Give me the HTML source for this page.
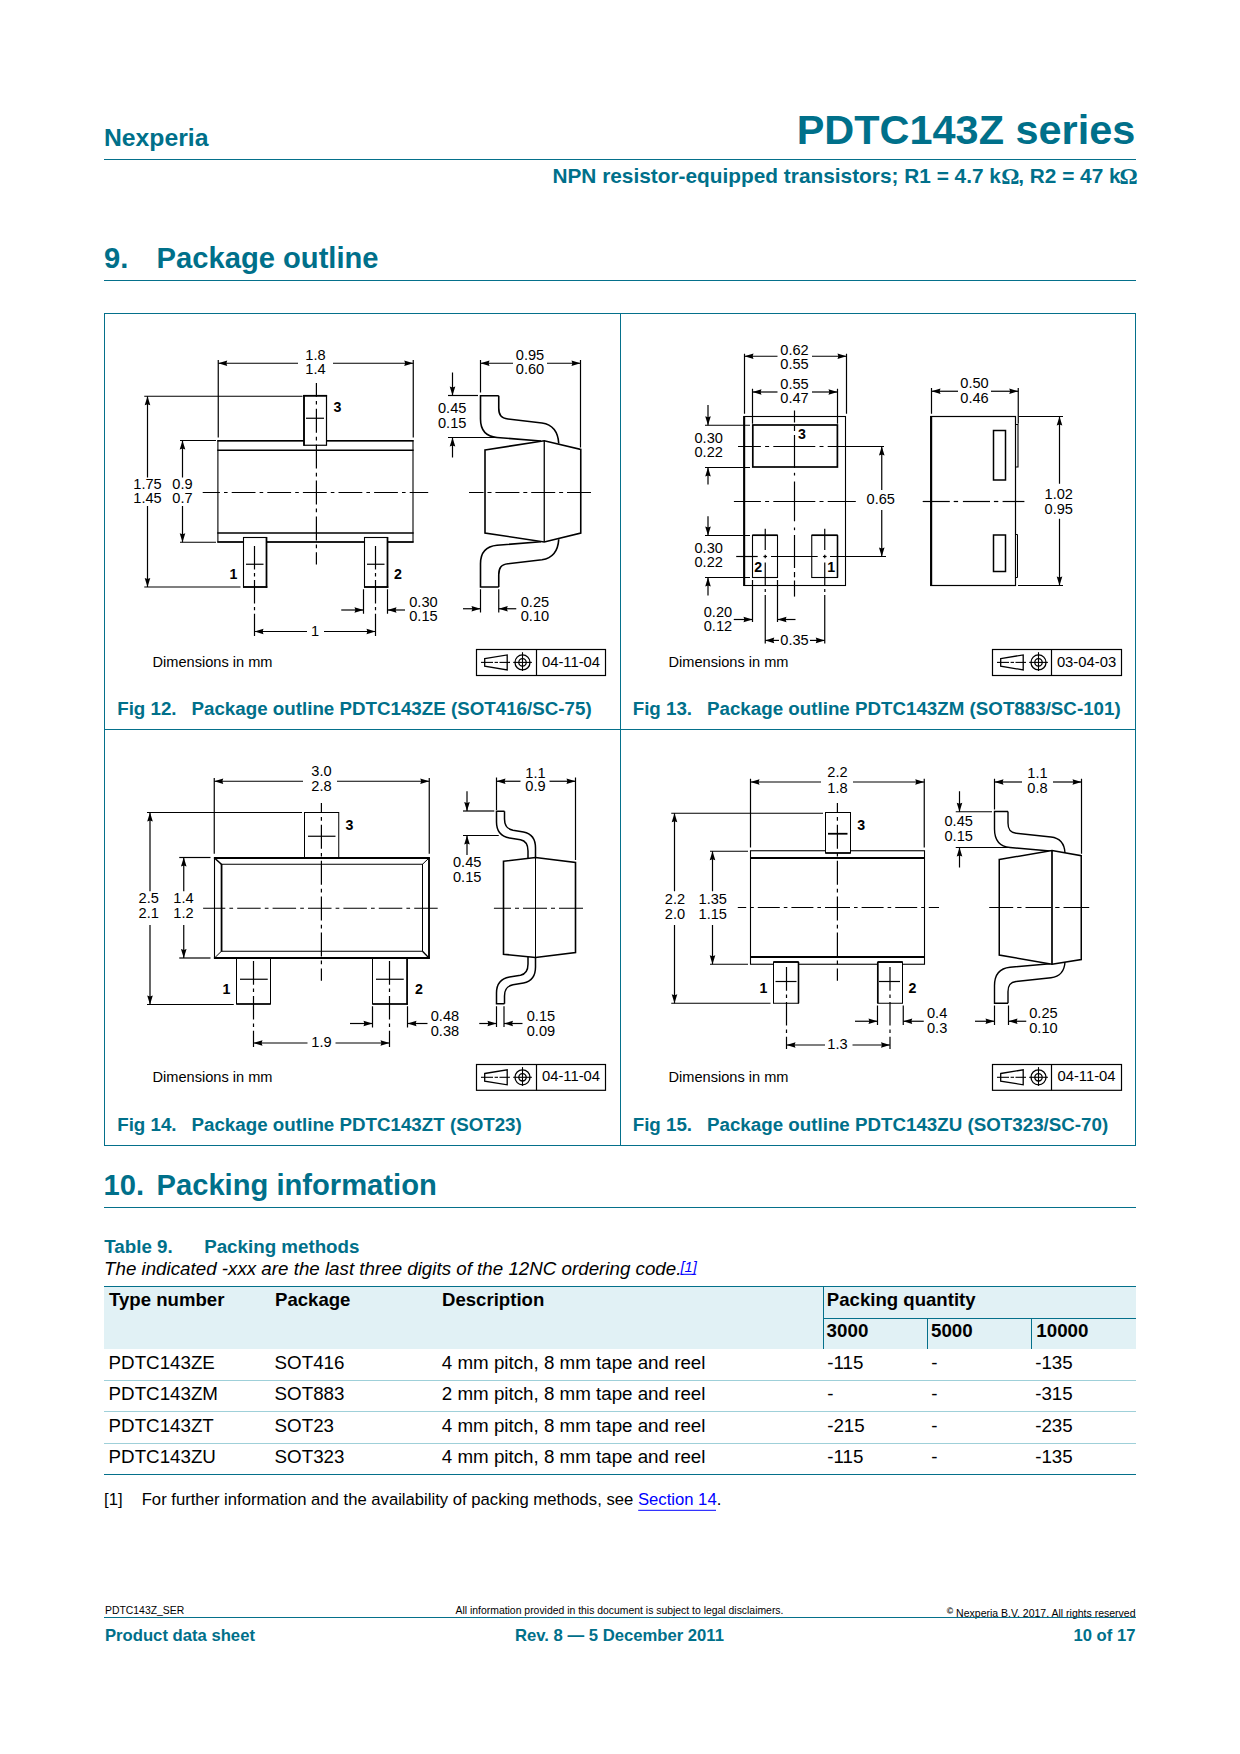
<!DOCTYPE html>
<html lang="en"><head><meta charset="utf-8"><title>PDTC143Z series - Package outline</title>
<style>
html,body{margin:0;padding:0;background:#fff}
svg{display:block}
svg{font-family:"Liberation Sans",sans-serif}
</style></head><body>
<svg width="1240" height="1754" viewBox="0 0 1240 1754">
<rect width="1240" height="1754" fill="#fff"/>
<text x="103.9" y="146" font-size="24.75" font-weight="bold" fill="#00708a">Nexperia</text>
<text x="1135.3" y="144" font-size="41.45" text-anchor="end" font-weight="bold" fill="#00708a">PDTC143Z series</text>
<line x1="104" y1="159.5" x2="1136" y2="159.5" stroke="#04708b" stroke-width="1"/>
<text x="552.4" y="183" font-size="20.83" font-weight="bold" fill="#00708a">NPN resistor-equipped transistors; R1 = 4.7 k</text>
<text x="1018.2" y="183" font-size="20.83" font-weight="bold" fill="#00708a">, R2 = 47 k</text>
<text x="1001.2" y="184" font-size="22.7" font-weight="bold" fill="#00708a" font-family="Liberation Serif, DejaVu Serif, serif">Ω</text>
<text x="1119.6" y="184" font-size="22.7" font-weight="bold" fill="#00708a" font-family="Liberation Serif, DejaVu Serif, serif">Ω</text>
<text x="104" y="268" font-size="29.17" font-weight="bold" fill="#00708a">9.</text>
<text x="156.6" y="268" font-size="29.17" font-weight="bold" fill="#00708a">Package outline</text>
<line x1="104" y1="280.5" x2="1136" y2="280.5" stroke="#04708b" stroke-width="1"/>
<rect x="104.5" y="313.5" width="1031" height="832" fill="none" stroke="#04708b" stroke-width="1"/>
<line x1="620.5" y1="313.5" x2="620.5" y2="1145.5" stroke="#04708b" stroke-width="1"/>
<line x1="104.5" y1="729.5" x2="1135.5" y2="729.5" stroke="#04708b" stroke-width="1"/>
<text x="117.2" y="715.1" font-size="18.75" font-weight="bold" fill="#00708a">Fig 12.</text>
<text x="191.5" y="715.1" font-size="18.75" font-weight="bold" fill="#00708a">Package outline PDTC143ZE (SOT416/SC-75)</text>
<text x="632.7" y="715.1" font-size="18.75" font-weight="bold" fill="#00708a">Fig 13.</text>
<text x="707" y="715.1" font-size="18.75" font-weight="bold" fill="#00708a">Package outline PDTC143ZM (SOT883/SC-101)</text>
<text x="117.2" y="1131.3" font-size="18.75" font-weight="bold" fill="#00708a">Fig 14.</text>
<text x="191.5" y="1131.3" font-size="18.75" font-weight="bold" fill="#00708a">Package outline PDTC143ZT (SOT23)</text>
<text x="632.7" y="1131.3" font-size="18.75" font-weight="bold" fill="#00708a">Fig 15.</text>
<text x="707" y="1131.3" font-size="18.75" font-weight="bold" fill="#00708a">Package outline PDTC143ZU (SOT323/SC-70)</text>
<text x="152.5" y="666.5" font-size="14.6">Dimensions in mm</text>
<text x="668.5" y="666.5" font-size="14.6">Dimensions in mm</text>
<text x="152.5" y="1081.5" font-size="14.6">Dimensions in mm</text>
<text x="668.5" y="1081.5" font-size="14.6">Dimensions in mm</text>
<rect x="476.5" y="649.5" width="129" height="26" fill="none" stroke="#000" stroke-width="1.2"/>
<line x1="536.5" y1="649.5" x2="536.5" y2="675.5" stroke="#000" stroke-width="1.2"/>
<path d="M484.7 658.6 L507.2 654.9 L507.2 669.9 L484.7 666.2 Z" fill="none" stroke="#000" stroke-width="1.3" stroke-linejoin="miter"/>
<line x1="481" y1="662.4" x2="493" y2="662.4" stroke="#000" stroke-width="1.1"/>
<line x1="494.6" y1="662.4" x2="498" y2="662.4" stroke="#000" stroke-width="1.1"/>
<line x1="499.5" y1="662.4" x2="510" y2="662.4" stroke="#000" stroke-width="1.1"/>
<circle cx="522.5" cy="662.4" r="7.5" fill="none" stroke="#000" stroke-width="1.3"/>
<circle cx="522.5" cy="662.4" r="3.7" fill="none" stroke="#000" stroke-width="1.3"/>
<line x1="513.2" y1="662.4" x2="531.9" y2="662.4" stroke="#000" stroke-width="1.1"/>
<line x1="522.5" y1="652.2" x2="522.5" y2="671" stroke="#000" stroke-width="1.1"/>
<text x="571" y="666.6" font-size="14.8" text-anchor="middle">04-11-04</text>
<rect x="992.5" y="649.5" width="129" height="26" fill="none" stroke="#000" stroke-width="1.2"/>
<line x1="1051.5" y1="649.5" x2="1051.5" y2="675.5" stroke="#000" stroke-width="1.2"/>
<path d="M1000.7 658.6 L1023.2 654.9 L1023.2 669.9 L1000.7 666.2 Z" fill="none" stroke="#000" stroke-width="1.3" stroke-linejoin="miter"/>
<line x1="997" y1="662.4" x2="1009" y2="662.4" stroke="#000" stroke-width="1.1"/>
<line x1="1010.6" y1="662.4" x2="1014" y2="662.4" stroke="#000" stroke-width="1.1"/>
<line x1="1015.5" y1="662.4" x2="1026" y2="662.4" stroke="#000" stroke-width="1.1"/>
<circle cx="1038.5" cy="662.4" r="7.5" fill="none" stroke="#000" stroke-width="1.3"/>
<circle cx="1038.5" cy="662.4" r="3.7" fill="none" stroke="#000" stroke-width="1.3"/>
<line x1="1029.2" y1="662.4" x2="1047.9" y2="662.4" stroke="#000" stroke-width="1.1"/>
<line x1="1038.5" y1="652.2" x2="1038.5" y2="671" stroke="#000" stroke-width="1.1"/>
<text x="1086.5" y="666.6" font-size="14.8" text-anchor="middle">03-04-03</text>
<rect x="476.5" y="1064.5" width="129" height="25.8" fill="none" stroke="#000" stroke-width="1.2"/>
<line x1="536.5" y1="1064.5" x2="536.5" y2="1090.3" stroke="#000" stroke-width="1.2"/>
<path d="M484.7 1073.5 L507.2 1069.8 L507.2 1084.8 L484.7 1081.1 Z" fill="none" stroke="#000" stroke-width="1.3" stroke-linejoin="miter"/>
<line x1="481" y1="1077.3" x2="493" y2="1077.3" stroke="#000" stroke-width="1.1"/>
<line x1="494.6" y1="1077.3" x2="498" y2="1077.3" stroke="#000" stroke-width="1.1"/>
<line x1="499.5" y1="1077.3" x2="510" y2="1077.3" stroke="#000" stroke-width="1.1"/>
<circle cx="522.5" cy="1077.3" r="7.5" fill="none" stroke="#000" stroke-width="1.3"/>
<circle cx="522.5" cy="1077.3" r="3.7" fill="none" stroke="#000" stroke-width="1.3"/>
<line x1="513.2" y1="1077.3" x2="531.9" y2="1077.3" stroke="#000" stroke-width="1.1"/>
<line x1="522.5" y1="1067.1" x2="522.5" y2="1085.9" stroke="#000" stroke-width="1.1"/>
<text x="571" y="1081.4" font-size="14.8" text-anchor="middle">04-11-04</text>
<rect x="992.5" y="1064.5" width="129" height="25.8" fill="none" stroke="#000" stroke-width="1.2"/>
<line x1="1051.5" y1="1064.5" x2="1051.5" y2="1090.3" stroke="#000" stroke-width="1.2"/>
<path d="M1000.7 1073.5 L1023.2 1069.8 L1023.2 1084.8 L1000.7 1081.1 Z" fill="none" stroke="#000" stroke-width="1.3" stroke-linejoin="miter"/>
<line x1="997" y1="1077.3" x2="1009" y2="1077.3" stroke="#000" stroke-width="1.1"/>
<line x1="1010.6" y1="1077.3" x2="1014" y2="1077.3" stroke="#000" stroke-width="1.1"/>
<line x1="1015.5" y1="1077.3" x2="1026" y2="1077.3" stroke="#000" stroke-width="1.1"/>
<circle cx="1038.5" cy="1077.3" r="7.5" fill="none" stroke="#000" stroke-width="1.3"/>
<circle cx="1038.5" cy="1077.3" r="3.7" fill="none" stroke="#000" stroke-width="1.3"/>
<line x1="1029.2" y1="1077.3" x2="1047.9" y2="1077.3" stroke="#000" stroke-width="1.1"/>
<line x1="1038.5" y1="1067.1" x2="1038.5" y2="1085.9" stroke="#000" stroke-width="1.1"/>
<text x="1086.5" y="1081.4" font-size="14.8" text-anchor="middle">04-11-04</text>
<text x="103.5" y="1195" font-size="29.17" font-weight="bold" fill="#00708a">10.</text>
<text x="156.5" y="1195" font-size="29.17" font-weight="bold" fill="#00708a">Packing information</text>
<line x1="104" y1="1207.5" x2="1136" y2="1207.5" stroke="#04708b" stroke-width="1"/>
<text x="104.3" y="1253" font-size="18.75" font-weight="bold" fill="#00708a">Table 9.</text>
<text x="204.2" y="1253" font-size="18.75" font-weight="bold" fill="#00708a">Packing methods</text>
<text x="104" y="1274.5" font-size="18.75" font-style="italic">The indicated -xxx are the last three digits of the 12NC ordering code.</text>
<text x="680.5" y="1271.7" font-size="14.6" font-style="italic" fill="#0000ff">[1]</text>
<line x1="681" y1="1274.3" x2="696.2" y2="1274.3" stroke="#0000ff" stroke-width="1"/>
<rect x="104" y="1287" width="1032" height="62" fill="#e1f1f5"/>
<line x1="104" y1="1286.5" x2="1136" y2="1286.5" stroke="#04708b" stroke-width="1"/>
<line x1="823.5" y1="1286.5" x2="823.5" y2="1349" stroke="#04708b" stroke-width="1"/>
<line x1="823.5" y1="1318.5" x2="1136" y2="1318.5" stroke="#04708b" stroke-width="1"/>
<line x1="927.5" y1="1318.5" x2="927.5" y2="1349" stroke="#04708b" stroke-width="1"/>
<line x1="1031.5" y1="1318.5" x2="1031.5" y2="1349" stroke="#04708b" stroke-width="1"/>
<text x="109" y="1306.1" font-size="18.6" font-weight="bold">Type number</text>
<text x="275" y="1306.1" font-size="18.6" font-weight="bold">Package</text>
<text x="442" y="1306.1" font-size="18.6" font-weight="bold">Description</text>
<text x="826.8" y="1306.1" font-size="18.6" font-weight="bold">Packing quantity</text>
<text x="826.6" y="1337.3" font-size="18.75" font-weight="bold">3000</text>
<text x="931" y="1337.3" font-size="18.75" font-weight="bold">5000</text>
<text x="1036.3" y="1337.3" font-size="18.75" font-weight="bold">10000</text>
<text x="108.6" y="1368.8" font-size="18.75">PDTC143ZE</text>
<text x="274.6" y="1368.8" font-size="18.75">SOT416</text>
<text x="441.8" y="1368.8" font-size="18.75">4 mm pitch, 8 mm tape and reel</text>
<text x="827.2" y="1368.8" font-size="18.75">-115</text>
<text x="931.2" y="1368.8" font-size="18.75">-</text>
<text x="1035.2" y="1368.8" font-size="18.75">-135</text>
<text x="108.6" y="1400.3" font-size="18.75">PDTC143ZM</text>
<text x="274.6" y="1400.3" font-size="18.75">SOT883</text>
<text x="441.8" y="1400.3" font-size="18.75">2 mm pitch, 8 mm tape and reel</text>
<text x="827.2" y="1400.3" font-size="18.75">-</text>
<text x="931.2" y="1400.3" font-size="18.75">-</text>
<text x="1035.2" y="1400.3" font-size="18.75">-315</text>
<text x="108.6" y="1431.6" font-size="18.75">PDTC143ZT</text>
<text x="274.6" y="1431.6" font-size="18.75">SOT23</text>
<text x="441.8" y="1431.6" font-size="18.75">4 mm pitch, 8 mm tape and reel</text>
<text x="827.2" y="1431.6" font-size="18.75">-215</text>
<text x="931.2" y="1431.6" font-size="18.75">-</text>
<text x="1035.2" y="1431.6" font-size="18.75">-235</text>
<text x="108.6" y="1463.2" font-size="18.75">PDTC143ZU</text>
<text x="274.6" y="1463.2" font-size="18.75">SOT323</text>
<text x="441.8" y="1463.2" font-size="18.75">4 mm pitch, 8 mm tape and reel</text>
<text x="827.2" y="1463.2" font-size="18.75">-115</text>
<text x="931.2" y="1463.2" font-size="18.75">-</text>
<text x="1035.2" y="1463.2" font-size="18.75">-135</text>
<line x1="104" y1="1380.5" x2="1136" y2="1380.5" stroke="#9fd0d9" stroke-width="1"/>
<line x1="104" y1="1411.5" x2="1136" y2="1411.5" stroke="#9fd0d9" stroke-width="1"/>
<line x1="104" y1="1443.5" x2="1136" y2="1443.5" stroke="#9fd0d9" stroke-width="1"/>
<line x1="104" y1="1474.5" x2="1136" y2="1474.5" stroke="#04708b" stroke-width="1"/>
<text x="104" y="1505" font-size="16.67">[1]</text>
<text x="141.7" y="1505" font-size="16.67">For further information and the availability of packing methods, see <tspan fill="#0000ff">Section 14</tspan>.</text>
<line x1="638.2" y1="1510.3" x2="716" y2="1510.3" stroke="#0000ff" stroke-width="1"/>
<text x="105" y="1614" font-size="10.42">PDTC143Z_SER</text>
<text x="619.5" y="1614" font-size="10.42" text-anchor="middle">All information provided in this document is subject to legal disclaimers.</text>
<text x="1135.5" y="1617.1" font-size="10.5" text-anchor="end"><tspan font-size="8.6" font-weight="bold" dy="-3.4">©</tspan><tspan dy="3.4"> Nexperia B.V. 2017. All rights reserved</tspan></text>
<line x1="104" y1="1617.5" x2="1136" y2="1617.5" stroke="#04708b" stroke-width="1"/>
<text x="105" y="1641" font-size="16.67" font-weight="bold" fill="#00708a">Product data sheet</text>
<text x="619.5" y="1641" font-size="16.67" text-anchor="middle" font-weight="bold" fill="#00708a">Rev. 8 — 5 December 2011</text>
<text x="1135.5" y="1641" font-size="16.67" text-anchor="end" font-weight="bold" fill="#00708a">10 of 17</text>
<g id="fig12">
<line x1="218.25" y1="360" x2="218.25" y2="437.5" stroke="#000" stroke-width="1.2"/>
<line x1="413.25" y1="360" x2="413.25" y2="437.5" stroke="#000" stroke-width="1.2"/>
<line x1="218.25" y1="363.25" x2="298" y2="363.25" stroke="#000" stroke-width="1.2"/>
<line x1="333" y1="363.25" x2="413.25" y2="363.25" stroke="#000" stroke-width="1.2"/>
<polygon points="218.25,363.25 227.25,360.45 226.35,363.25 227.25,366.05"/>
<polygon points="413.25,363.25 404.25,360.45 405.15,363.25 404.25,366.05"/>
<text x="315.5" y="359.5" font-size="14.6" text-anchor="middle">1.8</text>
<text x="315.5" y="374.1" font-size="14.6" text-anchor="middle">1.4</text>
<rect x="217.9" y="440.75" width="195.1" height="101.25" fill="none" stroke="#000" stroke-width="1.1"/>
<line x1="217.3" y1="440.75" x2="413.6" y2="440.75" stroke="#000" stroke-width="1.7"/>
<line x1="217.3" y1="450.25" x2="413.6" y2="450.25" stroke="#000" stroke-width="1.7"/>
<line x1="217.3" y1="533" x2="413.6" y2="533" stroke="#000" stroke-width="1.7"/>
<line x1="217.3" y1="542" x2="413.6" y2="542" stroke="#000" stroke-width="1.7"/>
<rect x="304" y="395.75" width="22.5" height="49.5" fill="#fff" stroke="#000" stroke-width="1.2"/>
<line x1="303.2" y1="395.75" x2="327.1" y2="395.75" stroke="#000" stroke-width="1.7"/>
<line x1="304" y1="395" x2="304" y2="445.8" stroke="#000" stroke-width="1.7"/>
<rect x="243.5" y="537.5" width="23" height="49.5" fill="#fff" stroke="#000" stroke-width="1.1"/>
<line x1="266.5" y1="537" x2="266.5" y2="587.8" stroke="#000" stroke-width="1.7"/>
<line x1="243" y1="587" x2="267.3" y2="587" stroke="#000" stroke-width="1.7"/>
<rect x="364.5" y="537.5" width="23" height="49.5" fill="#fff" stroke="#000" stroke-width="1.1"/>
<line x1="387.5" y1="537" x2="387.5" y2="587.8" stroke="#000" stroke-width="1.7"/>
<line x1="364" y1="587" x2="388.3" y2="587" stroke="#000" stroke-width="1.7"/>
<line x1="202.7" y1="492.5" x2="428.2" y2="492.5" stroke="#000" stroke-width="1.2" stroke-dasharray="23.8 4.1 3.6 4.1" stroke-dashoffset="6.6"/>
<line x1="316.4" y1="382.9" x2="316.4" y2="564.6" stroke="#000" stroke-width="1.2" stroke-dasharray="24 4.1 3.7 4.1" stroke-dashoffset="10.1"/>
<line x1="306" y1="418.25" x2="324" y2="418.25" stroke="#000" stroke-width="1.2"/>
<line x1="246" y1="564.25" x2="263.5" y2="564.25" stroke="#000" stroke-width="1.2"/>
<line x1="254.5" y1="546" x2="254.5" y2="636" stroke="#000" stroke-width="1.2" stroke-dasharray="23.5 3.5 3.4 3.5"/>
<line x1="367" y1="564.25" x2="384.5" y2="564.25" stroke="#000" stroke-width="1.2"/>
<line x1="375.5" y1="546" x2="375.5" y2="636" stroke="#000" stroke-width="1.2" stroke-dasharray="23.5 3.5 3.4 3.5"/>
<line x1="144.25" y1="396.25" x2="302.5" y2="396.25" stroke="#000" stroke-width="1.2"/>
<line x1="144.25" y1="587" x2="240.5" y2="587" stroke="#000" stroke-width="1.2"/>
<line x1="147.5" y1="396.25" x2="147.5" y2="477.5" stroke="#000" stroke-width="1.2"/>
<line x1="147.5" y1="506" x2="147.5" y2="587" stroke="#000" stroke-width="1.2"/>
<polygon points="147.5,396.25 144.7,405.25 147.5,404.35 150.3,405.25"/>
<polygon points="147.5,587 144.7,578 147.5,578.9 150.3,578"/>
<text x="147.5" y="488.75" font-size="14.6" text-anchor="middle">1.75</text>
<text x="147.5" y="503.35" font-size="14.6" text-anchor="middle">1.45</text>
<line x1="180" y1="440.5" x2="216" y2="440.5" stroke="#000" stroke-width="1.2"/>
<line x1="180" y1="542.25" x2="216" y2="542.25" stroke="#000" stroke-width="1.2"/>
<line x1="182.5" y1="440.5" x2="182.5" y2="477.5" stroke="#000" stroke-width="1.2"/>
<line x1="182.5" y1="506" x2="182.5" y2="542.25" stroke="#000" stroke-width="1.2"/>
<polygon points="182.5,440.5 179.7,449.5 182.5,448.6 185.3,449.5"/>
<polygon points="182.5,542.25 179.7,533.25 182.5,534.15 185.3,533.25"/>
<text x="182.5" y="488.75" font-size="14.6" text-anchor="middle">0.9</text>
<text x="182.5" y="503.35" font-size="14.6" text-anchor="middle">0.7</text>
<text x="333.5" y="412" font-size="14.2" font-weight="bold">3</text>
<text x="229.5" y="579.25" font-size="14.2" font-weight="bold">1</text>
<text x="394" y="579.25" font-size="14.2" font-weight="bold">2</text>
<line x1="254.5" y1="631.5" x2="307" y2="631.5" stroke="#000" stroke-width="1.2"/>
<line x1="324" y1="631.5" x2="375.5" y2="631.5" stroke="#000" stroke-width="1.2"/>
<polygon points="254.5,631.5 263.5,628.7 262.6,631.5 263.5,634.3"/>
<polygon points="375.5,631.5 366.5,628.7 367.4,631.5 366.5,634.3"/>
<text x="315" y="636" font-size="14.6" text-anchor="middle">1</text>
<line x1="363.5" y1="589.25" x2="363.5" y2="613.75" stroke="#000" stroke-width="1.2"/>
<line x1="387.5" y1="589.25" x2="387.5" y2="613.75" stroke="#000" stroke-width="1.2"/>
<line x1="341.25" y1="610" x2="363.5" y2="610" stroke="#000" stroke-width="1.2"/>
<polygon points="363.5,610 354.5,607.2 355.4,610 354.5,612.8"/>
<line x1="387.5" y1="610" x2="405" y2="610" stroke="#000" stroke-width="1.2"/>
<polygon points="387.5,610 396.5,607.2 395.6,610 396.5,612.8"/>
<text x="409.25" y="606.75" font-size="14.6">0.30</text>
<text x="409.25" y="621.35" font-size="14.6">0.15</text>
<line x1="480.5" y1="360" x2="480.5" y2="392.5" stroke="#000" stroke-width="1.2"/>
<line x1="580.5" y1="360" x2="580.5" y2="447.5" stroke="#000" stroke-width="1.2"/>
<line x1="480.5" y1="363.25" x2="513" y2="363.25" stroke="#000" stroke-width="1.2"/>
<line x1="547" y1="363.25" x2="580.5" y2="363.25" stroke="#000" stroke-width="1.2"/>
<polygon points="480.5,363.25 489.5,360.45 488.6,363.25 489.5,366.05"/>
<polygon points="580.5,363.25 571.5,360.45 572.4,363.25 571.5,366.05"/>
<text x="530" y="359.5" font-size="14.6" text-anchor="middle">0.95</text>
<text x="530" y="374.1" font-size="14.6" text-anchor="middle">0.60</text>
<line x1="448" y1="395.5" x2="478" y2="395.5" stroke="#000" stroke-width="1.2"/>
<line x1="448" y1="437.5" x2="497" y2="437.5" stroke="#000" stroke-width="1.2"/>
<line x1="452.5" y1="372.5" x2="452.5" y2="395.5" stroke="#000" stroke-width="1.2"/>
<polygon points="452.5,395.5 449.7,386.5 452.5,387.4 455.3,386.5"/>
<line x1="452.5" y1="437.5" x2="452.5" y2="457.5" stroke="#000" stroke-width="1.2"/>
<polygon points="452.5,437.5 449.7,446.5 452.5,445.6 455.3,446.5"/>
<text x="438" y="413.25" font-size="14.6">0.45</text>
<text x="438" y="427.85" font-size="14.6">0.15</text>
<path d="M498.75 395.75 L480.5 395.75 L480.5 419 C480.5 431 486 436.5 497 437.5 L541 441 M498.75 395.75 L498.75 408 C498.75 415 501 418.3 508 419 L542 423 C552 424.5 558 431 558.75 443.5" fill="none" stroke="#000" stroke-width="1.6" stroke-linejoin="miter"/>
<path d="M498.75 587 L480.5 587 L480.5 563.75 C480.5 551.75 486 546.25 497 545.25 L541 541.75 M498.75 587 L498.75 574.75 C498.75 567.75 501 564.45 508 563.75 L542 559.75 C552 558.25 558 551.75 558.75 539.25" fill="none" stroke="#000" stroke-width="1.6" stroke-linejoin="miter"/>
<path d="M485 450 L544.25 440.75 L580.75 449.5 L580.75 533 L544.25 542 L485 533 Z" fill="#fff" stroke="#000" stroke-width="1.6" stroke-linejoin="miter"/>
<line x1="544.25" y1="440.75" x2="544.25" y2="542" stroke="#000" stroke-width="1.3"/>
<line x1="591" y1="492.5" x2="469" y2="492.5" stroke="#000" stroke-width="1.2" stroke-dasharray="24 3.9 4 3.9" stroke-dashoffset="0"/>
<line x1="480.5" y1="589.25" x2="480.5" y2="612.5" stroke="#000" stroke-width="1.2"/>
<line x1="498.75" y1="589.25" x2="498.75" y2="612.5" stroke="#000" stroke-width="1.2"/>
<line x1="463" y1="608.75" x2="480.5" y2="608.75" stroke="#000" stroke-width="1.2"/>
<polygon points="480.5,608.75 471.5,605.95 472.4,608.75 471.5,611.55"/>
<line x1="498.75" y1="608.75" x2="516.25" y2="608.75" stroke="#000" stroke-width="1.2"/>
<polygon points="498.75,608.75 507.75,605.95 506.85,608.75 507.75,611.55"/>
<text x="520.75" y="606.75" font-size="14.6">0.25</text>
<text x="520.75" y="621.35" font-size="14.6">0.10</text>
</g>
<g id="fig13">
<line x1="744.5" y1="353.75" x2="744.5" y2="413.75" stroke="#000" stroke-width="1.2"/>
<line x1="846.5" y1="353.75" x2="846.5" y2="413.75" stroke="#000" stroke-width="1.2"/>
<line x1="744.5" y1="356.25" x2="777.5" y2="356.25" stroke="#000" stroke-width="1.2"/>
<line x1="812" y1="356.25" x2="846.5" y2="356.25" stroke="#000" stroke-width="1.2"/>
<polygon points="744.5,356.25 753.5,353.45 752.6,356.25 753.5,359.05"/>
<polygon points="846.5,356.25 837.5,353.45 838.4,356.25 837.5,359.05"/>
<text x="794.5" y="354.5" font-size="14.6" text-anchor="middle">0.62</text>
<text x="794.5" y="368.8" font-size="14.6" text-anchor="middle">0.55</text>
<line x1="752.5" y1="388.75" x2="752.5" y2="423.75" stroke="#000" stroke-width="1.2"/>
<line x1="837.5" y1="388.75" x2="837.5" y2="423.75" stroke="#000" stroke-width="1.2"/>
<line x1="752.5" y1="392" x2="777.5" y2="392" stroke="#000" stroke-width="1.2"/>
<line x1="812" y1="392" x2="837.5" y2="392" stroke="#000" stroke-width="1.2"/>
<polygon points="752.5,392 761.5,389.2 760.6,392 761.5,394.8"/>
<polygon points="837.5,392 828.5,389.2 829.4,392 828.5,394.8"/>
<text x="794.5" y="388.75" font-size="14.6" text-anchor="middle">0.55</text>
<text x="794.5" y="403.35" font-size="14.6" text-anchor="middle">0.47</text>
<rect x="744" y="416.5" width="101.5" height="169" fill="none" stroke="#000" stroke-width="1.1"/>
<line x1="744.2" y1="416" x2="744.2" y2="586" stroke="#000" stroke-width="2"/>
<rect x="752.8" y="425" width="84.6" height="42" fill="none" stroke="#000" stroke-width="1.7"/>
<rect x="752.5" y="535.25" width="25" height="42.25" fill="none" stroke="#000" stroke-width="1.1"/>
<line x1="752.5" y1="535.25" x2="777.5" y2="535.25" stroke="#000" stroke-width="1.6"/>
<rect x="811.75" y="535.25" width="25.75" height="42.25" fill="none" stroke="#000" stroke-width="1.1"/>
<line x1="811.75" y1="535.25" x2="837.5" y2="535.25" stroke="#000" stroke-width="1.6"/>
<line x1="837.5" y1="535.25" x2="837.5" y2="577.5" stroke="#000" stroke-width="1.5"/>
<line x1="794.5" y1="410.5" x2="794.5" y2="422.5" stroke="#000" stroke-width="1.2"/>
<line x1="794.5" y1="425.7" x2="794.5" y2="431" stroke="#000" stroke-width="1.2"/>
<line x1="794.5" y1="435" x2="794.5" y2="468" stroke="#000" stroke-width="1.2"/>
<line x1="794.5" y1="472.8" x2="794.5" y2="475.5" stroke="#000" stroke-width="1.2"/>
<line x1="794.5" y1="481.5" x2="794.5" y2="521.3" stroke="#000" stroke-width="1.2"/>
<line x1="794.5" y1="527.5" x2="794.5" y2="530.2" stroke="#000" stroke-width="1.2"/>
<line x1="794.5" y1="535" x2="794.5" y2="568" stroke="#000" stroke-width="1.2"/>
<line x1="794.5" y1="572" x2="794.5" y2="577.3" stroke="#000" stroke-width="1.2"/>
<line x1="794.5" y1="580.5" x2="794.5" y2="596.6" stroke="#000" stroke-width="1.2"/>
<line x1="794.3" y1="501.5" x2="733.9" y2="501.5" stroke="#000" stroke-width="1.2" stroke-dasharray="42 4.2 4 4.2" stroke-dashoffset="21"/>
<line x1="794.3" y1="501.5" x2="855.8" y2="501.5" stroke="#000" stroke-width="1.2" stroke-dasharray="42 4.2 4 4.2" stroke-dashoffset="21"/>
<line x1="794.3" y1="446.5" x2="738" y2="446.5" stroke="#000" stroke-width="1.2" stroke-dasharray="42 4.2 4 4.2" stroke-dashoffset="21"/>
<line x1="794.3" y1="446.5" x2="843" y2="446.5" stroke="#000" stroke-width="1.2" stroke-dasharray="42 4.2 4 4.2" stroke-dashoffset="21"/>
<line x1="829.4" y1="446.5" x2="884" y2="446.5" stroke="#000" stroke-width="1.2"/>
<line x1="736.2" y1="556.5" x2="757.7" y2="556.5" stroke="#000" stroke-width="1.2"/>
<line x1="771" y1="556.5" x2="817.7" y2="556.5" stroke="#000" stroke-width="1.2"/>
<line x1="830" y1="556.5" x2="886" y2="556.5" stroke="#000" stroke-width="1.2"/>
<line x1="765.25" y1="528.75" x2="765.25" y2="550" stroke="#000" stroke-width="1.2"/>
<line x1="765.25" y1="554.7" x2="765.25" y2="558.3" stroke="#000" stroke-width="1.2"/>
<line x1="765.25" y1="562.5" x2="765.25" y2="586" stroke="#000" stroke-width="1.2"/>
<line x1="765.25" y1="589" x2="765.25" y2="592" stroke="#000" stroke-width="1.2"/>
<line x1="765.25" y1="595" x2="765.25" y2="643.5" stroke="#000" stroke-width="1.2"/>
<line x1="763.45" y1="556.5" x2="767.05" y2="556.5" stroke="#000" stroke-width="1.2"/>
<line x1="824.75" y1="528.75" x2="824.75" y2="550" stroke="#000" stroke-width="1.2"/>
<line x1="824.75" y1="554.7" x2="824.75" y2="558.3" stroke="#000" stroke-width="1.2"/>
<line x1="824.75" y1="562.5" x2="824.75" y2="586" stroke="#000" stroke-width="1.2"/>
<line x1="824.75" y1="589" x2="824.75" y2="592" stroke="#000" stroke-width="1.2"/>
<line x1="824.75" y1="595" x2="824.75" y2="643.5" stroke="#000" stroke-width="1.2"/>
<line x1="822.95" y1="556.5" x2="826.55" y2="556.5" stroke="#000" stroke-width="1.2"/>
<line x1="881.75" y1="446.5" x2="881.75" y2="490" stroke="#000" stroke-width="1.2"/>
<line x1="881.75" y1="510" x2="881.75" y2="556.5" stroke="#000" stroke-width="1.2"/>
<polygon points="881.75,446.5 878.95,455.5 881.75,454.6 884.55,455.5"/>
<polygon points="881.75,556.5 878.95,547.5 881.75,548.4 884.55,547.5"/>
<text x="880.75" y="504.25" font-size="14.6" text-anchor="middle">0.65</text>
<line x1="705" y1="425.25" x2="750" y2="425.25" stroke="#000" stroke-width="1.2"/>
<line x1="705" y1="467.5" x2="750" y2="467.5" stroke="#000" stroke-width="1.2"/>
<line x1="708" y1="405" x2="708" y2="425.25" stroke="#000" stroke-width="1.2"/>
<polygon points="708,425.25 705.2,416.25 708,417.15 710.8,416.25"/>
<line x1="708" y1="467.5" x2="708" y2="484.5" stroke="#000" stroke-width="1.2"/>
<polygon points="708,467.5 705.2,476.5 708,475.6 710.8,476.5"/>
<text x="694.5" y="442.5" font-size="14.6">0.30</text>
<text x="694.5" y="456.8" font-size="14.6">0.22</text>
<line x1="705" y1="535.5" x2="750" y2="535.5" stroke="#000" stroke-width="1.2"/>
<line x1="705" y1="577.5" x2="750" y2="577.5" stroke="#000" stroke-width="1.2"/>
<line x1="708" y1="516.25" x2="708" y2="535.5" stroke="#000" stroke-width="1.2"/>
<polygon points="708,535.5 705.2,526.5 708,527.4 710.8,526.5"/>
<line x1="708" y1="577.5" x2="708" y2="595.5" stroke="#000" stroke-width="1.2"/>
<polygon points="708,577.5 705.2,586.5 708,585.6 710.8,586.5"/>
<text x="694.5" y="552.5" font-size="14.6">0.30</text>
<text x="694.5" y="566.8" font-size="14.6">0.22</text>
<line x1="752.5" y1="580" x2="752.5" y2="622" stroke="#000" stroke-width="1.2"/>
<line x1="777.5" y1="580" x2="777.5" y2="622" stroke="#000" stroke-width="1.2"/>
<line x1="733.75" y1="619.5" x2="752.5" y2="619.5" stroke="#000" stroke-width="1.2"/>
<polygon points="752.5,619.5 743.5,616.7 744.4,619.5 743.5,622.3"/>
<line x1="777.5" y1="619.5" x2="795.5" y2="619.5" stroke="#000" stroke-width="1.2"/>
<polygon points="777.5,619.5 786.5,616.7 785.6,619.5 786.5,622.3"/>
<text x="703.75" y="616.7" font-size="14.6">0.20</text>
<text x="703.75" y="630.7" font-size="14.6">0.12</text>
<line x1="765.25" y1="640.4" x2="779" y2="640.4" stroke="#000" stroke-width="1.2"/>
<line x1="810" y1="640.4" x2="824.75" y2="640.4" stroke="#000" stroke-width="1.2"/>
<polygon points="765.25,640.4 774.25,637.6 773.35,640.4 774.25,643.2"/>
<polygon points="824.75,640.4 815.75,637.6 816.65,640.4 815.75,643.2"/>
<text x="794.5" y="644.5" font-size="14.6" text-anchor="middle">0.35</text>
<text x="798" y="439.25" font-size="14.2" font-weight="bold">3</text>
<text x="754.25" y="571.75" font-size="14.2" font-weight="bold">2</text>
<text x="827.25" y="571.75" font-size="14.2" font-weight="bold">1</text>
<rect x="930.75" y="416.5" width="84.75" height="169" fill="none" stroke="#000" stroke-width="1.2"/>
<line x1="931.2" y1="416" x2="931.2" y2="586" stroke="#000" stroke-width="2"/>
<rect x="993.5" y="430.5" width="12" height="49.5" fill="none" stroke="#000" stroke-width="1.5"/>
<rect x="993.5" y="535" width="12" height="36.5" fill="none" stroke="#000" stroke-width="1.5"/>
<path d="M1015.5 424.5 L1018 424.5 L1018 467 L1015.5 467" fill="none" stroke="#000" stroke-width="1.1" stroke-linejoin="miter"/>
<path d="M1015.5 534.5 L1017.5 534.5 L1017.5 577.5 L1015.5 577.5" fill="none" stroke="#000" stroke-width="1" stroke-linejoin="miter"/>
<line x1="931.5" y1="388" x2="931.5" y2="413.75" stroke="#000" stroke-width="1.2"/>
<line x1="1018.25" y1="388" x2="1018.25" y2="423.75" stroke="#000" stroke-width="1.2"/>
<line x1="931.5" y1="391.25" x2="958" y2="391.25" stroke="#000" stroke-width="1.2"/>
<line x1="991" y1="391.25" x2="1018.25" y2="391.25" stroke="#000" stroke-width="1.2"/>
<polygon points="931.5,391.25 940.5,388.45 939.6,391.25 940.5,394.05"/>
<polygon points="1018.25,391.25 1009.25,388.45 1010.15,391.25 1009.25,394.05"/>
<text x="974.5" y="387.5" font-size="14.6" text-anchor="middle">0.50</text>
<text x="974.5" y="402.5" font-size="14.6" text-anchor="middle">0.46</text>
<line x1="922.7" y1="501.5" x2="949.8" y2="501.5" stroke="#000" stroke-width="1.2"/>
<line x1="953.7" y1="501.5" x2="958.1" y2="501.5" stroke="#000" stroke-width="1.2"/>
<line x1="962.9" y1="501.5" x2="990" y2="501.5" stroke="#000" stroke-width="1.2"/>
<line x1="993.9" y1="501.5" x2="998.3" y2="501.5" stroke="#000" stroke-width="1.2"/>
<line x1="1002.6" y1="501.5" x2="1024.4" y2="501.5" stroke="#000" stroke-width="1.2"/>
<line x1="1018.75" y1="416.5" x2="1063" y2="416.5" stroke="#000" stroke-width="1.2"/>
<line x1="1018" y1="585.5" x2="1063" y2="585.5" stroke="#000" stroke-width="1.2"/>
<line x1="1059.5" y1="416.5" x2="1059.5" y2="483.75" stroke="#000" stroke-width="1.2"/>
<line x1="1059.5" y1="518.75" x2="1059.5" y2="585.5" stroke="#000" stroke-width="1.2"/>
<polygon points="1059.5,416.5 1056.7,425.5 1059.5,424.6 1062.3,425.5"/>
<polygon points="1059.5,585.5 1056.7,576.5 1059.5,577.4 1062.3,576.5"/>
<text x="1058.75" y="498.75" font-size="14.6" text-anchor="middle">1.02</text>
<text x="1058.75" y="513.75" font-size="14.6" text-anchor="middle">0.95</text>
</g>
<g id="fig14">
<line x1="214.25" y1="778" x2="214.25" y2="853.75" stroke="#000" stroke-width="1.2"/>
<line x1="429.25" y1="778" x2="429.25" y2="853.75" stroke="#000" stroke-width="1.2"/>
<line x1="214.25" y1="781.25" x2="303" y2="781.25" stroke="#000" stroke-width="1.2"/>
<line x1="337" y1="781.25" x2="429.25" y2="781.25" stroke="#000" stroke-width="1.2"/>
<polygon points="214.25,781.25 223.25,778.45 222.35,781.25 223.25,784.05"/>
<polygon points="429.25,781.25 420.25,778.45 421.15,781.25 420.25,784.05"/>
<text x="321.5" y="776.25" font-size="14.6" text-anchor="middle">3.0</text>
<text x="321.5" y="791.25" font-size="14.6" text-anchor="middle">2.8</text>
<rect x="304.5" y="812.5" width="34.25" height="45.5" fill="none" stroke="#000" stroke-width="1"/>
<rect x="236.5" y="958" width="34" height="46" fill="none" stroke="#000" stroke-width="1"/>
<line x1="236.5" y1="1004" x2="270.5" y2="1004" stroke="#000" stroke-width="1.6"/>
<rect x="372.5" y="958" width="34.6" height="46" fill="none" stroke="#000" stroke-width="1"/>
<line x1="372.5" y1="1004" x2="407.8" y2="1004" stroke="#000" stroke-width="1.6"/>
<line x1="407.1" y1="958" x2="407.1" y2="1004.8" stroke="#000" stroke-width="1.6"/>
<rect x="214.5" y="858" width="214.5" height="100" fill="none" stroke="#000" stroke-width="1.1"/>
<line x1="213.9" y1="858" x2="429.8" y2="858" stroke="#000" stroke-width="1.8"/>
<line x1="213.9" y1="958" x2="429.8" y2="958" stroke="#000" stroke-width="1.8"/>
<line x1="429" y1="857.2" x2="429" y2="958.8" stroke="#000" stroke-width="1.7"/>
<rect x="221.4" y="864.25" width="201.1" height="87" fill="none" stroke="#000" stroke-width="1"/>
<line x1="221.6" y1="864" x2="221.6" y2="951.5" stroke="#000" stroke-width="1.7"/>
<line x1="214.5" y1="858" x2="221.4" y2="864.25" stroke="#000" stroke-width="1.6"/>
<line x1="429" y1="858" x2="422.5" y2="864.25" stroke="#000" stroke-width="1"/>
<line x1="214.5" y1="958" x2="221.4" y2="951.25" stroke="#000" stroke-width="1"/>
<line x1="429" y1="958" x2="422.5" y2="951.25" stroke="#000" stroke-width="1.3"/>
<line x1="203.1" y1="908.25" x2="439" y2="908.25" stroke="#000" stroke-width="1.2" stroke-dasharray="23.5 4.1 3.7 4.1" stroke-dashoffset="1.3"/>
<line x1="321.4" y1="802.9" x2="321.4" y2="980.8" stroke="#000" stroke-width="1.2" stroke-dasharray="24 4.1 3.7 4.1" stroke-dashoffset="14"/>
<line x1="308" y1="836.25" x2="335.5" y2="836.25" stroke="#000" stroke-width="1.2"/>
<line x1="240" y1="979.25" x2="267.75" y2="979.25" stroke="#000" stroke-width="1.2"/>
<line x1="253.5" y1="961" x2="253.5" y2="1047" stroke="#000" stroke-width="1.2" stroke-dasharray="23.7 3.9 3.4 3.9"/>
<line x1="376" y1="979.25" x2="403.75" y2="979.25" stroke="#000" stroke-width="1.2"/>
<line x1="389.5" y1="961" x2="389.5" y2="1047" stroke="#000" stroke-width="1.2" stroke-dasharray="23.7 3.9 3.4 3.9"/>
<line x1="147" y1="812.5" x2="302" y2="812.5" stroke="#000" stroke-width="1.2"/>
<line x1="147" y1="1004.5" x2="233.75" y2="1004.5" stroke="#000" stroke-width="1.2"/>
<line x1="150" y1="812.5" x2="150" y2="891.25" stroke="#000" stroke-width="1.2"/>
<line x1="150" y1="925" x2="150" y2="1004.5" stroke="#000" stroke-width="1.2"/>
<polygon points="150,812.5 147.2,821.5 150,820.6 152.8,821.5"/>
<polygon points="150,1004.5 147.2,995.5 150,996.4 152.8,995.5"/>
<text x="148.75" y="903.25" font-size="14.6" text-anchor="middle">2.5</text>
<text x="148.75" y="917.55" font-size="14.6" text-anchor="middle">2.1</text>
<line x1="179.25" y1="857.5" x2="210.5" y2="857.5" stroke="#000" stroke-width="1.2"/>
<line x1="179.25" y1="958" x2="210.5" y2="958" stroke="#000" stroke-width="1.2"/>
<line x1="183.75" y1="857.5" x2="183.75" y2="891.25" stroke="#000" stroke-width="1.2"/>
<line x1="183.75" y1="925" x2="183.75" y2="958" stroke="#000" stroke-width="1.2"/>
<polygon points="183.75,857.5 180.95,866.5 183.75,865.6 186.55,866.5"/>
<polygon points="183.75,958 180.95,949 183.75,949.9 186.55,949"/>
<text x="183.5" y="903.25" font-size="14.6" text-anchor="middle">1.4</text>
<text x="183.5" y="917.55" font-size="14.6" text-anchor="middle">1.2</text>
<text x="345.5" y="830" font-size="14.2" font-weight="bold">3</text>
<text x="222.5" y="993.75" font-size="14.2" font-weight="bold">1</text>
<text x="415" y="993.75" font-size="14.2" font-weight="bold">2</text>
<line x1="253.5" y1="1043" x2="307.5" y2="1043" stroke="#000" stroke-width="1.2"/>
<line x1="335.5" y1="1043" x2="389.5" y2="1043" stroke="#000" stroke-width="1.2"/>
<polygon points="253.5,1043 262.5,1040.2 261.6,1043 262.5,1045.8"/>
<polygon points="389.5,1043 380.5,1040.2 381.4,1043 380.5,1045.8"/>
<text x="321.5" y="1046.75" font-size="14.6" text-anchor="middle">1.9</text>
<line x1="372.5" y1="1006.25" x2="372.5" y2="1027.5" stroke="#000" stroke-width="1.2"/>
<line x1="407.5" y1="1006.25" x2="407.5" y2="1027.5" stroke="#000" stroke-width="1.2"/>
<line x1="350" y1="1023.5" x2="372.5" y2="1023.5" stroke="#000" stroke-width="1.2"/>
<polygon points="372.5,1023.5 363.5,1020.7 364.4,1023.5 363.5,1026.3"/>
<line x1="407.5" y1="1023.5" x2="427.5" y2="1023.5" stroke="#000" stroke-width="1.2"/>
<polygon points="407.5,1023.5 416.5,1020.7 415.6,1023.5 416.5,1026.3"/>
<text x="430.75" y="1020.75" font-size="14.6">0.48</text>
<text x="430.75" y="1035.5" font-size="14.6">0.38</text>
<line x1="496.5" y1="777.5" x2="496.5" y2="810" stroke="#000" stroke-width="1.2"/>
<line x1="575.5" y1="777.5" x2="575.5" y2="860" stroke="#000" stroke-width="1.2"/>
<line x1="496.5" y1="781.25" x2="520.5" y2="781.25" stroke="#000" stroke-width="1.2"/>
<line x1="549.5" y1="781.25" x2="575.5" y2="781.25" stroke="#000" stroke-width="1.2"/>
<polygon points="496.5,781.25 505.5,778.45 504.6,781.25 505.5,784.05"/>
<polygon points="575.5,781.25 566.5,778.45 567.4,781.25 566.5,784.05"/>
<text x="535.5" y="777.5" font-size="14.6" text-anchor="middle">1.1</text>
<text x="535.5" y="791.25" font-size="14.6" text-anchor="middle">0.9</text>
<line x1="463" y1="811" x2="494.25" y2="811" stroke="#000" stroke-width="1.2"/>
<line x1="463" y1="835.5" x2="498.75" y2="835.5" stroke="#000" stroke-width="1.2"/>
<line x1="467" y1="791.25" x2="467" y2="811" stroke="#000" stroke-width="1.2"/>
<polygon points="467,811 464.2,802 467,802.9 469.8,802"/>
<line x1="467" y1="835.5" x2="467" y2="855" stroke="#000" stroke-width="1.2"/>
<polygon points="467,835.5 464.2,844.5 467,843.6 469.8,844.5"/>
<text x="453" y="867" font-size="14.6">0.45</text>
<text x="453" y="882" font-size="14.6">0.15</text>
<path d="M504.5 811.25 L496.5 811.25 L496.5 822 C496.5 831 501 836.5 509.5 838 L520.5 839.8 C526.5 841 528 845 528 851 L528 858.5 M504.5 811.25 L504.5 819 C504.5 826 507 829 513 830.2 L523.5 832 C531.5 833.5 535.5 838.5 535.5 848 L535.5 858" fill="none" stroke="#000" stroke-width="1.5" stroke-linejoin="miter"/>
<path d="M504.5 1003.75 L496.5 1003.75 L496.5 993 C496.5 984 501 978.5 509.5 977 L520.5 975.2 C526.5 974 528 970 528 964 L528 956.5 M504.5 1003.75 L504.5 996 C504.5 989 507 986 513 984.8 L523.5 983 C531.5 981.5 535.5 976.5 535.5 967 L535.5 957" fill="none" stroke="#000" stroke-width="1.5" stroke-linejoin="miter"/>
<path d="M503.5 861.25 L535.5 857.5 L575.5 862.5 L575.5 952.5 L535.5 957.5 L503.5 954.25 Z" fill="#fff" stroke="#000" stroke-width="1.6" stroke-linejoin="miter"/>
<line x1="535.5" y1="857.5" x2="535.5" y2="957.5" stroke="#000" stroke-width="1"/>
<line x1="583" y1="908.25" x2="493.9" y2="908.25" stroke="#000" stroke-width="1.2" stroke-dasharray="24 4 4 4" stroke-dashoffset="0"/>
<line x1="496.5" y1="1006.25" x2="496.5" y2="1027" stroke="#000" stroke-width="1.2"/>
<line x1="504" y1="1006.25" x2="504" y2="1027" stroke="#000" stroke-width="1.2"/>
<line x1="479.25" y1="1023.5" x2="496.5" y2="1023.5" stroke="#000" stroke-width="1.2"/>
<polygon points="496.5,1023.5 487.5,1020.7 488.4,1023.5 487.5,1026.3"/>
<line x1="504" y1="1023.5" x2="522.5" y2="1023.5" stroke="#000" stroke-width="1.2"/>
<polygon points="504,1023.5 513,1020.7 512.1,1023.5 513,1026.3"/>
<text x="526.75" y="1020.75" font-size="14.6">0.15</text>
<text x="526.75" y="1035.5" font-size="14.6">0.09</text>
</g>
<g id="fig15">
<line x1="750.5" y1="778.75" x2="750.5" y2="847.5" stroke="#000" stroke-width="1.2"/>
<line x1="924.25" y1="778.75" x2="924.25" y2="847.5" stroke="#000" stroke-width="1.2"/>
<line x1="750.5" y1="782" x2="821" y2="782" stroke="#000" stroke-width="1.2"/>
<line x1="853" y1="782" x2="924.25" y2="782" stroke="#000" stroke-width="1.2"/>
<polygon points="750.5,782 759.5,779.2 758.6,782 759.5,784.8"/>
<polygon points="924.25,782 915.25,779.2 916.15,782 915.25,784.8"/>
<text x="837.5" y="777" font-size="14.6" text-anchor="middle">2.2</text>
<text x="837.5" y="792.5" font-size="14.6" text-anchor="middle">1.8</text>
<rect x="750.5" y="850.75" width="174" height="113.5" fill="none" stroke="#000" stroke-width="1.1"/>
<line x1="750.5" y1="858" x2="924.5" y2="858" stroke="#000" stroke-width="1.8"/>
<line x1="750.5" y1="957" x2="924.5" y2="957" stroke="#000" stroke-width="1.8"/>
<rect x="825.5" y="812.5" width="25" height="40.5" fill="#fff" stroke="#000" stroke-width="1"/>
<line x1="825.5" y1="853" x2="850.5" y2="853" stroke="#000" stroke-width="1.6"/>
<rect x="773.5" y="962" width="25" height="41.25" fill="#fff" stroke="#000" stroke-width="1"/>
<line x1="773.5" y1="962" x2="798.5" y2="962" stroke="#000" stroke-width="1.8"/>
<line x1="798.5" y1="962" x2="798.5" y2="1003.25" stroke="#000" stroke-width="1.6"/>
<rect x="877.75" y="962" width="24.75" height="41.25" fill="#fff" stroke="#000" stroke-width="1"/>
<line x1="877.75" y1="962" x2="902.5" y2="962" stroke="#000" stroke-width="1.8"/>
<line x1="877.75" y1="962" x2="877.75" y2="1003.25" stroke="#000" stroke-width="1.6"/>
<line x1="837.5" y1="907.5" x2="737.8" y2="907.5" stroke="#000" stroke-width="1.2" stroke-dasharray="22 4 3.6 4" stroke-dashoffset="9.5"/>
<line x1="837.5" y1="907.5" x2="939" y2="907.5" stroke="#000" stroke-width="1.2" stroke-dasharray="22 4 3.6 4" stroke-dashoffset="9.5"/>
<line x1="837.4" y1="802.9" x2="837.4" y2="980.8" stroke="#000" stroke-width="1.2" stroke-dasharray="24 4.1 3.7 4.1" stroke-dashoffset="14"/>
<line x1="828" y1="833.75" x2="847.5" y2="833.75" stroke="#000" stroke-width="1.8"/>
<line x1="775.5" y1="981.5" x2="796.5" y2="981.5" stroke="#000" stroke-width="1.2"/>
<line x1="786.5" y1="967" x2="786.5" y2="1049" stroke="#000" stroke-width="1.2" stroke-dasharray="23.7 3.9 3.4 3.9"/>
<line x1="879" y1="981.5" x2="900" y2="981.5" stroke="#000" stroke-width="1.2"/>
<line x1="890" y1="967" x2="890" y2="1049" stroke="#000" stroke-width="1.2" stroke-dasharray="23.7 3.9 3.4 3.9"/>
<line x1="671.25" y1="813.25" x2="823" y2="813.25" stroke="#000" stroke-width="1.2"/>
<line x1="671.25" y1="1003.25" x2="770.5" y2="1003.25" stroke="#000" stroke-width="1.2"/>
<line x1="674.5" y1="813.25" x2="674.5" y2="891.25" stroke="#000" stroke-width="1.2"/>
<line x1="674.5" y1="925" x2="674.5" y2="1003.25" stroke="#000" stroke-width="1.2"/>
<polygon points="674.5,813.25 671.7,822.25 674.5,821.35 677.3,822.25"/>
<polygon points="674.5,1003.25 671.7,994.25 674.5,995.15 677.3,994.25"/>
<text x="675" y="904.25" font-size="14.6" text-anchor="middle">2.2</text>
<text x="675" y="918.75" font-size="14.6" text-anchor="middle">2.0</text>
<line x1="710" y1="851.25" x2="748" y2="851.25" stroke="#000" stroke-width="1.2"/>
<line x1="710" y1="964.25" x2="748" y2="964.25" stroke="#000" stroke-width="1.2"/>
<line x1="712.5" y1="851.25" x2="712.5" y2="891.25" stroke="#000" stroke-width="1.2"/>
<line x1="712.5" y1="925" x2="712.5" y2="964.25" stroke="#000" stroke-width="1.2"/>
<polygon points="712.5,851.25 709.7,860.25 712.5,859.35 715.3,860.25"/>
<polygon points="712.5,964.25 709.7,955.25 712.5,956.15 715.3,955.25"/>
<text x="712.75" y="904.25" font-size="14.6" text-anchor="middle">1.35</text>
<text x="712.75" y="918.75" font-size="14.6" text-anchor="middle">1.15</text>
<text x="857.25" y="830" font-size="14.2" font-weight="bold">3</text>
<text x="759.5" y="992.5" font-size="14.2" font-weight="bold">1</text>
<text x="908.5" y="992.5" font-size="14.2" font-weight="bold">2</text>
<line x1="786.5" y1="1045" x2="825" y2="1045" stroke="#000" stroke-width="1.2"/>
<line x1="852.5" y1="1045" x2="890" y2="1045" stroke="#000" stroke-width="1.2"/>
<polygon points="786.5,1045 795.5,1042.2 794.6,1045 795.5,1047.8"/>
<polygon points="890,1045 881,1042.2 881.9,1045 881,1047.8"/>
<text x="837.5" y="1048.5" font-size="14.6" text-anchor="middle">1.3</text>
<line x1="877.5" y1="1005.5" x2="877.5" y2="1025" stroke="#000" stroke-width="1.2"/>
<line x1="903.25" y1="1005.5" x2="903.25" y2="1025" stroke="#000" stroke-width="1.2"/>
<line x1="855" y1="1021.25" x2="877.5" y2="1021.25" stroke="#000" stroke-width="1.2"/>
<polygon points="877.5,1021.25 868.5,1018.45 869.4,1021.25 868.5,1024.05"/>
<line x1="903.25" y1="1021.25" x2="923.75" y2="1021.25" stroke="#000" stroke-width="1.2"/>
<polygon points="903.25,1021.25 912.25,1018.45 911.35,1021.25 912.25,1024.05"/>
<text x="927" y="1018.25" font-size="14.6">0.4</text>
<text x="927" y="1032.5" font-size="14.6">0.3</text>
<line x1="994.5" y1="778.75" x2="994.5" y2="809.5" stroke="#000" stroke-width="1.2"/>
<line x1="1081.5" y1="778.75" x2="1081.5" y2="853.75" stroke="#000" stroke-width="1.2"/>
<line x1="994.5" y1="782" x2="1022" y2="782" stroke="#000" stroke-width="1.2"/>
<line x1="1053" y1="782" x2="1081.5" y2="782" stroke="#000" stroke-width="1.2"/>
<polygon points="994.5,782 1003.5,779.2 1002.6,782 1003.5,784.8"/>
<polygon points="1081.5,782 1072.5,779.2 1073.4,782 1072.5,784.8"/>
<text x="1037.5" y="778.25" font-size="14.6" text-anchor="middle">1.1</text>
<text x="1037.5" y="792.5" font-size="14.6" text-anchor="middle">0.8</text>
<line x1="955.75" y1="811.75" x2="992" y2="811.75" stroke="#000" stroke-width="1.2"/>
<line x1="955.75" y1="847.5" x2="1010" y2="847.5" stroke="#000" stroke-width="1.2"/>
<line x1="959.5" y1="791.25" x2="959.5" y2="811.75" stroke="#000" stroke-width="1.2"/>
<polygon points="959.5,811.75 956.7,802.75 959.5,803.65 962.3,802.75"/>
<line x1="959.5" y1="847.5" x2="959.5" y2="867.5" stroke="#000" stroke-width="1.2"/>
<polygon points="959.5,847.5 956.7,856.5 959.5,855.6 962.3,856.5"/>
<text x="944.5" y="826.25" font-size="14.6">0.45</text>
<text x="944.5" y="841.25" font-size="14.6">0.15</text>
<path d="M1008 811.5 L994.5 811.5 L994.5 829 C994.5 840.5 999.5 846.5 1010 847.5 L1050 851 M1008 811.5 L1008 823 C1008 829.5 1010 832.5 1016 833.2 L1051 837 C1059.5 838 1064.5 843.5 1065 853" fill="none" stroke="#000" stroke-width="1.4" stroke-linejoin="miter"/>
<path d="M1008 1003.25 L994.5 1003.25 L994.5 985.75 C994.5 974.25 999.5 968.25 1010 967.25 L1050 963.75 M1008 1003.25 L1008 991.75 C1008 985.25 1010 982.25 1016 981.55 L1051 977.75 C1059.5 976.75 1064.5 971.25 1065 961.75" fill="none" stroke="#000" stroke-width="1.4" stroke-linejoin="miter"/>
<path d="M999.25 859.5 L1052 850.5 L1081.25 855.75 L1081.25 959.5 L1052 964.25 L999.25 955 Z" fill="#fff" stroke="#000" stroke-width="1.5" stroke-linejoin="miter"/>
<line x1="1052" y1="850.5" x2="1052" y2="964.25" stroke="#000" stroke-width="1.7"/>
<line x1="989.2" y1="907.5" x2="1089.9" y2="907.5" stroke="#000" stroke-width="1.2" stroke-dasharray="25.7 4 4.3 4" stroke-dashoffset="1.7"/>
<line x1="994.5" y1="1005.5" x2="994.5" y2="1025" stroke="#000" stroke-width="1.2"/>
<line x1="1008.5" y1="1005.5" x2="1008.5" y2="1025" stroke="#000" stroke-width="1.2"/>
<line x1="975" y1="1021.25" x2="994.5" y2="1021.25" stroke="#000" stroke-width="1.2"/>
<polygon points="994.5,1021.25 985.5,1018.45 986.4,1021.25 985.5,1024.05"/>
<line x1="1008.5" y1="1021.25" x2="1026.25" y2="1021.25" stroke="#000" stroke-width="1.2"/>
<polygon points="1008.5,1021.25 1017.5,1018.45 1016.6,1021.25 1017.5,1024.05"/>
<text x="1029.25" y="1018.25" font-size="14.6">0.25</text>
<text x="1029.25" y="1033.25" font-size="14.6">0.10</text>
</g>
</svg>
</body></html>
